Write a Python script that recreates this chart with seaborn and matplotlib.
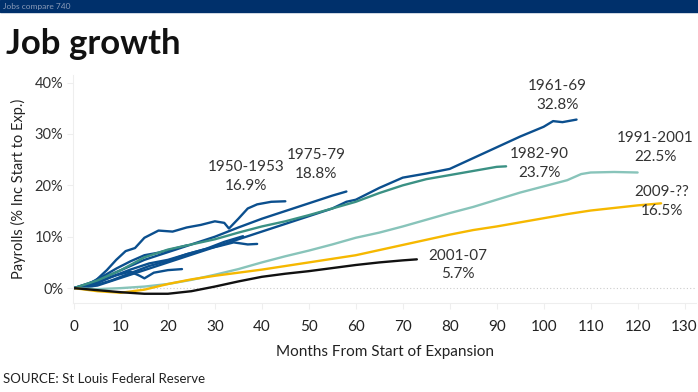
import matplotlib
matplotlib.use("Agg")
import matplotlib.pyplot as plt
from matplotlib.patches import Rectangle
from matplotlib.ticker import FuncFormatter
import pandas as pd
import seaborn as sns

# expansions: months from start, payroll growth (%)
m_1950 = [0, 3, 5, 7, 9, 11, 13, 15, 18, 21, 24, 27, 30, 32, 33, 35, 37, 39, 42, 45]
v_1950 = [0, 0.3, 1.8, 3.5, 5.5, 7.2, 7.8, 9.8, 11.2, 11.0, 11.8, 12.3, 13.0, 12.7, 11.6, 13.5, 15.5, 16.3, 16.8, 16.9]

m_1954 = [0, 4, 8, 12, 16, 20, 24, 28, 31, 34, 37, 39]
v_1954 = [0, 0.6, 2.2, 3.6, 4.8, 5.5, 6.6, 7.6, 8.2, 8.9, 8.5, 8.6]

m_1958 = [0, 3, 6, 9, 12, 15, 18, 21, 24]
v_1958 = [0, 0.8, 2.2, 3.8, 5.2, 6.4, 6.9, 7.6, 8.3]

m_1961 = [0, 5, 10, 15, 20, 25, 30, 35, 40, 45, 50, 55, 58, 60, 65, 70, 75, 80, 85, 90, 95, 100, 102, 104, 107]
v_1961 = [0, 0.5, 2, 3.5, 5, 6.5, 8, 9.5, 11, 12.5, 14, 15.5, 16.8, 17.2, 19.5, 21.5, 22.3, 23.2, 25.3, 27.4, 29.5, 31.4, 32.5, 32.3, 32.8]

m_1970 = [0, 4, 8, 12, 16, 20, 24, 28, 32, 36]
v_1970 = [0, 0.4, 1.5, 2.9, 4.3, 5.3, 6.6, 7.6, 9.0, 10.1]

m_1975 = [0, 5, 10, 15, 20, 25, 30, 35, 40, 45, 50, 55, 58]
v_1975 = [0, 1.5, 3.5, 5.5, 7, 8.5, 10, 11.8, 13.5, 15, 16.5, 18, 18.8]

m_1980 = [0, 3, 6, 9, 12, 14, 15, 17, 20, 23]
v_1980 = [0, 0.5, 1.5, 2.5, 3.2, 2.4, 1.9, 3.0, 3.5, 3.7]

m_1982 = [0, 5, 10, 15, 20, 25, 30, 35, 40, 45, 50, 55, 60, 65, 70, 75, 80, 85, 90, 92]
v_1982 = [0, 1.5, 3.5, 6, 7.5, 8.5, 9.5, 10.8, 12, 13, 14.2, 15.5, 16.8, 18.5, 20, 21.2, 22, 22.8, 23.6, 23.7]

m_1991 = [0, 5, 10, 15, 20, 25, 30, 35, 40, 45, 50, 55, 60, 65, 70, 75, 80, 85, 90, 95, 100, 105, 108, 110, 115, 120]
v_1991 = [0, -0.2, 0, 0.3, 0.8, 1.6, 2.6, 3.7, 5, 6.2, 7.3, 8.5, 9.8, 10.8, 12, 13.3, 14.6, 15.8, 17.2, 18.6, 19.8, 21, 22.2, 22.5, 22.6, 22.5]

m_2001 = [0, 5, 10, 15, 20, 25, 30, 35, 40, 45, 50, 55, 60, 65, 70, 73]
v_2001 = [0, -0.4, -0.8, -1.1, -1.1, -0.6, 0.3, 1.3, 2.2, 2.8, 3.3, 3.9, 4.5, 5, 5.4, 5.6]

m_2009 = [0, 5, 10, 15, 20, 25, 30, 35, 40, 45, 50, 55, 60, 65, 70, 75, 80, 85, 90, 95, 100, 105, 110, 115, 120, 125]
v_2009 = [0, -0.6, -0.9, -0.3, 0.8, 1.7, 2.4, 3, 3.6, 4.3, 5, 5.7, 6.4, 7.4, 8.4, 9.4, 10.4, 11.3, 12, 12.8, 13.6, 14.4, 15.1, 15.6, 16.1, 16.5]

series = {
    "1954-57": (m_1954, v_1954),
    "1958-60": (m_1958, v_1958),
    "1970-73": (m_1970, v_1970),
    "1980-81": (m_1980, v_1980),
    "1950-1953": (m_1950, v_1950),
    "1975-79": (m_1975, v_1975),
    "1961-69": (m_1961, v_1961),
    "1982-90": (m_1982, v_1982),
    "1991-2001": (m_1991, v_1991),
    "2009-??": (m_2009, v_2009),
    "2001-07": (m_2001, v_2001),
}

dark_blue = "#0b4f8e"
palette = {
    "1954-57": dark_blue, "1958-60": dark_blue, "1970-73": dark_blue,
    "1980-81": dark_blue, "1950-1953": dark_blue, "1975-79": dark_blue,
    "1961-69": dark_blue, "1982-90": "#3b9184", "1991-2001": "#88c4ba",
    "2009-??": "#f6b800", "2001-07": "#111111",
}

# end labels
label_text = ["1950-1953\n16.9%", "1975-79\n18.8%", "1961-69\n32.8%", "1982-90\n23.7%",
              "1991-2001\n22.5%", "2009-??\n16.5%", "2001-07\n5.7%"]
label_x = [36.6, 51.5, 103, 99.1, 123.8, 125.1, 81.7]
label_y = [21.8, 24.0, 37.5, 24.2, 27.3, 16.8, 4.5]

rows = []
for name, (ms, vs) in series.items():
    for m, v in zip(ms, vs):
        rows.append({"period": name, "month": m, "value": v})
df = pd.DataFrame(rows)

sns.set_style("white")
plt.rcParams["font.family"] = ["Lato", "DejaVu Sans"]

fig = plt.figure(figsize=(6.98, 3.92), dpi=100)
ax = fig.add_axes([0.1046, 0.227, 0.893, 0.582])

# header strip
fig.patches.append(Rectangle((0, 1 - 12 / 392), 1, 12 / 392, transform=fig.transFigure,
                             color="#00306b", zorder=0))
fig.text(0.004, 1 - 6 / 392, "Jobs compare 740", fontsize=6, color="#8a9bb8", va="center")
fig.text(0.008, 1 - 44 / 392, "Job growth", fontsize=25, fontweight="bold", color="#111111",
         va="center")
fig.text(0.004, 1 - 379 / 392, "SOURCE: St Louis Federal Reserve", fontsize=9.5, color="#222222",
         va="center")

ax.axhline(0, color="#cccccc", lw=0.8, ls=(0, (1, 2)), zorder=0)

sns.lineplot(data=df, x="month", y="value", hue="period", units="period", estimator=None,
             palette=palette, hue_order=list(series.keys()), linewidth=1.7, legend=False, ax=ax,
             sort=False)

for txt, x, y in zip(label_text, label_x, label_y):
    ax.text(x, y, txt, ha="center", va="center", fontsize=11, color="#333333", linespacing=1.45)

ax.set_xlim(-0.2, 132.5)
ax.set_ylim(-2.9, 41.5)
ax.set_xticks(range(0, 131, 10))
ax.set_yticks(range(0, 41, 10))
ax.yaxis.set_major_formatter(FuncFormatter(lambda v, p: f"{int(v)}%"))
ax.tick_params(axis="x", labelsize=11, colors="#eeeeee", labelcolor="#222222", length=4, width=0.8,
               bottom=True, pad=8)
ax.tick_params(axis="y", labelsize=10.5, colors="#eeeeee", labelcolor="#333333", length=4, width=0.8,
               left=True, pad=3)
ax.set_xlabel("Months From Start of Expansion", fontsize=11, color="#222222", labelpad=8)
ax.set_ylabel("Payrolls (% Inc Start to Exp.)", fontsize=10.5, color="#222222", labelpad=6)

for side in ["top", "right"]:
    ax.spines[side].set_visible(False)
for side in ["left", "bottom"]:
    ax.spines[side].set_color("#eeeeee")
    ax.spines[side].set_linewidth(0.8)

fig.savefig("out.png", dpi=100)
